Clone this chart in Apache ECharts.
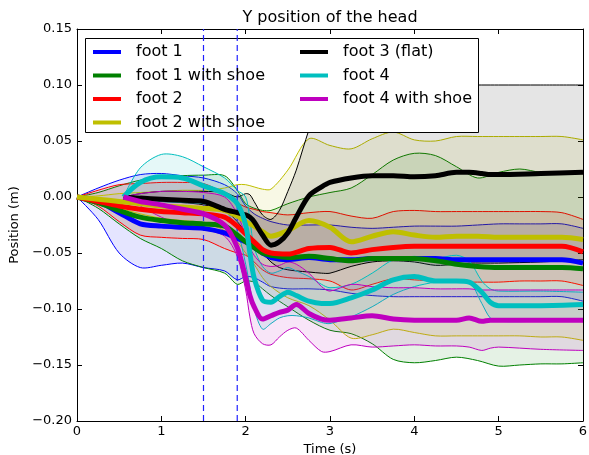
<!DOCTYPE html>
<html>
<head>
    <meta charset="UTF-8">
    <title>Y position of the head</title>
    <script type="text/javascript" src="https://cdn.jsdelivr.net/npm/echarts@6/dist/echarts.min.js"></script>
    <style>
        html, body { margin: 0; padding: 0; background: #fff; }
        #head { width: 589px; height: 455px; }
    </style>
</head>
<body>
<div id="head"></div>
<script>
    // time grids (s)
    var tA = [0, 0.25, 0.5, 0.75, 1, 1.25, 1.5, 1.75, 1.9, 2, 2.1, 2.2, 2.3, 2.5, 2.75, 3, 3.25, 3.5, 3.75, 4, 4.25, 4.5, 4.75, 5, 5.25, 5.5, 5.75, 6];
    var tB = [0.55, 0.75, 1, 1.25, 1.5, 1.75, 1.9, 2, 2.05, 2.1, 2.2, 2.3, 2.4, 2.5, 2.6, 2.75, 2.9, 3, 3.25, 3.5, 3.75, 4, 4.25, 4.5, 4.65, 4.8, 4.9, 5, 5.5, 6];

    // foot 1
    var foot1Mean = [0, -0.004, -0.014, -0.024, -0.026, -0.027, -0.028, -0.032, -0.037, -0.040, -0.045, -0.050, -0.054, -0.056, -0.054, -0.056, -0.056, -0.055, -0.055, -0.055, -0.055, -0.056, -0.056, -0.056, -0.056, -0.056, -0.056, -0.059];
    var foot1Upper = [0, 0.008, 0.015, 0.020, 0.021, 0.019, 0.017, 0.011, 0.003, -0.008, -0.015, -0.019, -0.022, -0.025, -0.025, -0.025, -0.027, -0.028, -0.027, -0.026, -0.026, -0.026, -0.025, -0.024, -0.024, -0.024, -0.024, -0.028];
    var foot1Lower = [0, -0.020, -0.050, -0.063, -0.061, -0.059, -0.063, -0.066, -0.074, -0.071, -0.072, -0.076, -0.080, -0.082, -0.082, -0.083, -0.086, -0.088, -0.089, -0.089, -0.089, -0.089, -0.089, -0.089, -0.089, -0.089, -0.089, -0.093];
    // foot 1 with shoe
    var foot1ShoeMean = [0, -0.005, -0.012, -0.018, -0.021, -0.023, -0.024, -0.026, -0.034, -0.040, -0.045, -0.050, -0.052, -0.054, -0.053, -0.055, -0.057, -0.055, -0.055, -0.055, -0.057, -0.060, -0.062, -0.063, -0.063, -0.063, -0.063, -0.064];
    var foot1ShoeUpper = [0, 0.004, 0.010, 0.015, 0.017, 0.019, 0.0195, 0.019, 0.006, -0.006, -0.010, -0.012, -0.012, -0.006, 0.000, 0.004, 0.008, 0.020, 0.033, 0.039, 0.037, 0.027, 0.017, 0.022, 0.025, 0.022, 0.022, 0.022];
    var foot1ShoeLower = [0, -0.010, -0.024, -0.037, -0.046, -0.057, -0.063, -0.068, -0.078, -0.075, -0.076, -0.082, -0.088, -0.098, -0.110, -0.119, -0.122, -0.131, -0.145, -0.148, -0.146, -0.143, -0.146, -0.151, -0.150, -0.149, -0.149, -0.148];
    // foot 2
    var foot2Mean = [0, -0.004, -0.008, -0.011, -0.013, -0.014, -0.015, -0.018, -0.026, -0.033, -0.040, -0.047, -0.050, -0.051, -0.046, -0.045, -0.050, -0.047, -0.045, -0.044, -0.044, -0.044, -0.044, -0.044, -0.044, -0.044, -0.044, -0.049];
    var foot2Upper = [0, 0.006, 0.011, 0.012, 0.013, 0.013, 0.012, 0.003, -0.005, -0.009, -0.011, -0.013, -0.014, -0.016, -0.014, -0.013, -0.017, -0.019, -0.013, -0.012, -0.013, -0.013, -0.013, -0.013, -0.013, -0.013, -0.014, -0.020];
    var foot2Lower = [0, -0.008, -0.022, -0.034, -0.036, -0.037, -0.038, -0.046, -0.050, -0.052, -0.058, -0.065, -0.069, -0.072, -0.073, -0.075, -0.083, -0.078, -0.073, -0.074, -0.075, -0.076, -0.076, -0.076, -0.075, -0.075, -0.075, -0.079];
    // foot 2 with shoe
    var foot2ShoeMean = [0, -0.002, -0.004, -0.006, -0.008, -0.009, -0.010, -0.012, -0.017, -0.022, -0.026, -0.031, -0.035, -0.030, -0.021, -0.027, -0.040, -0.035, -0.031, -0.034, -0.036, -0.035, -0.035, -0.036, -0.036, -0.036, -0.036, -0.038];
    var foot2ShoeUpper = [0, 0.001, 0.003, 0.004, 0.005, 0.006, 0.006, 0.008, 0.011, 0.011, 0.009, 0.007, 0.007, 0.024, 0.052, 0.046, 0.043, 0.052, 0.058, 0.051, 0.050, 0.054, 0.054, 0.054, 0.054, 0.054, 0.054, 0.051];
    var foot2ShoeLower = [0, -0.005, -0.010, -0.015, -0.019, -0.021, -0.023, -0.030, -0.040, -0.050, -0.060, -0.072, -0.080, -0.090, -0.097, -0.110, -0.126, -0.123, -0.118, -0.121, -0.124, -0.124, -0.124, -0.124, -0.124, -0.125, -0.125, -0.128];
    // foot 3 (flat)
    var foot3Mean = [0, -0.001, -0.002, -0.003, -0.004, -0.011, -0.014, -0.016, -0.018, -0.022, -0.034, -0.043, -0.040, -0.032, -0.018, 0.001, 0.009, 0.013, 0.017, 0.019, 0.019, 0.018, 0.019, 0.022, 0.022, 0.021, 0.020, 0.020, 0.021, 0.022];
    var foot3Upper = [0, 0.003, 0.005, 0.005, 0.005, 0.004, 0.000, 0.003, 0.002, -0.004, -0.016, -0.020, -0.012, 0.005, 0.024, 0.060, 0.090, 0.098, 0.100, 0.100, 0.100, 0.100, 0.100, 0.100, 0.100, 0.100, 0.100, 0.100, 0.100, 0.100];
    var foot3Lower = [0, -0.002, -0.004, -0.005, -0.007, -0.012, -0.022, -0.032, -0.038, -0.043, -0.050, -0.058, -0.063, -0.065, -0.066, -0.067, -0.068, -0.068, -0.062, -0.058, -0.057, -0.058, -0.061, -0.060, -0.059, -0.059, -0.059, -0.059, -0.058, -0.056];
    // foot 4
    var foot4Mean = [0, 0.013, 0.018, 0.017, 0.010, 0.003, -0.006, -0.025, -0.050, -0.072, -0.092, -0.094, -0.089, -0.085, -0.088, -0.093, -0.095, -0.095, -0.090, -0.083, -0.074, -0.071, -0.075, -0.075, -0.076, -0.085, -0.094, -0.097, -0.097, -0.096];
    var foot4Upper = [0, 0.026, 0.038, 0.036, 0.027, 0.017, 0.006, 0.000, -0.020, -0.045, -0.062, -0.068, -0.066, -0.063, -0.066, -0.071, -0.078, -0.081, -0.078, -0.068, -0.056, -0.053, -0.055, -0.052, -0.057, -0.075, -0.082, -0.084, -0.084, -0.085];
    var foot4Lower = [0, -0.002, -0.004, -0.005, -0.006, -0.012, -0.030, -0.060, -0.080, -0.100, -0.118, -0.113, -0.108, -0.106, -0.106, -0.108, -0.112, -0.113, -0.107, -0.098, -0.087, -0.080, -0.076, -0.074, -0.075, -0.095, -0.108, -0.111, -0.111, -0.111];
    // foot 4 with shoe
    var foot4ShoeMean = [0, -0.004, -0.007, -0.011, -0.015, -0.025, -0.045, -0.072, -0.088, -0.098, -0.109, -0.106, -0.103, -0.101, -0.096, -0.104, -0.109, -0.110, -0.108, -0.106, -0.109, -0.110, -0.110, -0.110, -0.108, -0.111, -0.110, -0.110, -0.110, -0.110];
    var foot4ShoeUpper = [0, 0.003, 0.005, 0.005, 0.004, 0.000, -0.015, -0.035, -0.045, -0.052, -0.060, -0.062, -0.061, -0.058, -0.060, -0.068, -0.080, -0.084, -0.078, -0.080, -0.081, -0.081, -0.082, -0.082, -0.082, -0.083, -0.083, -0.083, -0.083, -0.083];
    var foot4ShoeLower = [0, -0.008, -0.018, -0.025, -0.029, -0.035, -0.053, -0.083, -0.107, -0.122, -0.131, -0.132, -0.125, -0.119, -0.117, -0.128, -0.138, -0.138, -0.132, -0.134, -0.133, -0.132, -0.133, -0.133, -0.134, -0.137, -0.135, -0.134, -0.136, -0.137];

    var names = ['foot 1', 'foot 1 with shoe', 'foot 2', 'foot 2 with shoe', 'foot 3 (flat)', 'foot 4', 'foot 4 with shoe'];
    var colors = ['#0000ff', '#008000', '#ff0000', '#bfbf00', '#000000', '#00bfbf', '#bf00bf'];
    var markerTimes = [1.5, 1.9];
    var xMin = 0, xMax = 6, yMin = -0.2, yMax = 0.15;

    var feet = [
        {t: tA, mean: foot1Mean, upper: foot1Upper, lower: foot1Lower},
        {t: tA, mean: foot1ShoeMean, upper: foot1ShoeUpper, lower: foot1ShoeLower},
        {t: tA, mean: foot2Mean, upper: foot2Upper, lower: foot2Lower},
        {t: tA, mean: foot2ShoeMean, upper: foot2ShoeUpper, lower: foot2ShoeLower},
        {t: tB, mean: foot3Mean, upper: foot3Upper, lower: foot3Lower},
        {t: tB, mean: foot4Mean, upper: foot4Upper, lower: foot4Lower},
        {t: tB, mean: foot4ShoeMean, upper: foot4ShoeUpper, lower: foot4ShoeLower}
    ];

    var font = 'DejaVu Sans';

    function pairs(t, v) {
        return t.map(function (x, i) { return [x, v[i]]; });
    }

    var series = [];
    // dashed markers
    markerTimes.forEach(function (m) {
        series.push({
            type: 'line', silent: true, symbol: 'none',
            data: [[m, yMin], [m, yMax]],
            lineStyle: {color: '#2020ff', width: 1.2, type: [6, 4]}
        });
    });

    feet.forEach(function (f, k) {
        var col = colors[k];
        // band: fill + thin edges
        series.push({
            type: 'custom', silent: true, clip: true,
            data: [[f.t[0], f.mean[0]]],
            renderItem: function (params, api) {
                var up = f.t.map(function (x, i) { return api.coord([x, f.upper[i]]); });
                var lo = f.t.map(function (x, i) { return api.coord([x, f.lower[i]]); });
                var n = up.length;
                // repeat the corner points so the closed outline keeps sharp ends
                var outline = [up[0]].concat(up, [up[n - 1], lo[n - 1]], lo.slice().reverse(), [lo[0]]);
                return {
                    type: 'group',
                    children: [
                        {type: 'polygon', shape: {points: outline, smooth: 0.3},
                            style: {fill: echarts.color.modifyAlpha(col, 0.1), stroke: null}},
                        {type: 'polyline', shape: {points: up, smooth: 0.3},
                            style: {stroke: col, lineWidth: 1, fill: null}},
                        {type: 'polyline', shape: {points: lo, smooth: 0.3},
                            style: {stroke: col, lineWidth: 1, fill: null}}
                    ]
                };
            }
        });
        // mean
        series.push({
            type: 'line', name: names[k], silent: true, symbol: 'none',
            smooth: 0.3, color: col,
            itemStyle: {color: col},
            lineStyle: {color: col, width: 5},
            data: pairs(f.t, f.mean)
        });
    });

    var legendText = {fontSize: 16, fontFamily: font, color: '#000', lineHeight: 18, padding: [0, 0, 0, 10]};

    var myChart = echarts.init(document.getElementById('head'));
    myChart.setOption({
        animation: false,
        backgroundColor: '#fff',
        title: {
            text: 'Y position of the head',
            left: 330, top: 10, padding: 0, textAlign: 'center',
            textStyle: {fontSize: 16, fontWeight: 'normal', fontFamily: font, color: '#000'}
        },
        grid: {left: 77, right: 6, top: 29, bottom: 34, outerBoundsMode: 'none'},
        legend: [{
            data: names.slice(0, 4), orient: 'vertical', left: 93, top: 43, padding: 0,
            icon: 'rect', itemWidth: 28, itemHeight: 4, itemGap: 5.5, selectedMode: false,
            textStyle: legendText
        }, {
            data: names.slice(4), orient: 'vertical', left: 300, top: 43, padding: 0,
            icon: 'rect', itemWidth: 28, itemHeight: 4, itemGap: 5.5, selectedMode: false,
            textStyle: legendText
        }],
        graphic: [{
            type: 'rect', z: 3,
            shape: {x: 85.5, y: 38.5, width: 393, height: 94},
            style: {fill: '#fff', stroke: '#000', lineWidth: 1}
        }],
        xAxis: [{
            type: 'value', min: xMin, max: xMax, interval: 1, position: 'bottom',
            name: 'Time (s)', nameLocation: 'middle', nameGap: 19,
            nameTextStyle: {fontSize: 13, fontFamily: font, color: '#000'},
            axisLine: {onZero: false, lineStyle: {color: '#000', width: 1}},
            axisTick: {inside: true, length: 5, lineStyle: {color: '#000'}},
            axisLabel: {margin: 4, fontSize: 13, fontFamily: font, color: '#000'},
            splitLine: {show: false}
        }, {
            type: 'value', min: xMin, max: xMax, interval: 1, position: 'top',
            axisLine: {onZero: false, lineStyle: {color: '#000', width: 1}},
            axisTick: {inside: true, length: 5, lineStyle: {color: '#000'}},
            axisLabel: {show: false},
            splitLine: {show: false}
        }],
        yAxis: [{
            type: 'value', min: yMin, max: yMax, interval: 0.05, position: 'left',
            name: 'Position (m)', nameLocation: 'middle', nameGap: 45, nameRotate: 90,
            nameTextStyle: {fontSize: 13, fontFamily: font, color: '#000'},
            axisLine: {onZero: false, lineStyle: {color: '#000', width: 1}},
            axisTick: {inside: true, length: 5, lineStyle: {color: '#000'}},
            axisLabel: {
                margin: 5, fontSize: 13, fontFamily: font, color: '#000',
                formatter: function (v) {
                    if (Math.abs(v) < 1e-9) return '0.00';
                    return v.toFixed(2).replace('-', '\u2212');
                }
            },
            splitLine: {show: false}
        }, {
            type: 'value', min: yMin, max: yMax, interval: 0.05, position: 'right',
            axisLine: {onZero: false, lineStyle: {color: '#000', width: 1}},
            axisTick: {inside: true, length: 5, lineStyle: {color: '#000'}},
            axisLabel: {show: false},
            splitLine: {show: false}
        }],
        series: series
    });
</script>
</body>
</html>
